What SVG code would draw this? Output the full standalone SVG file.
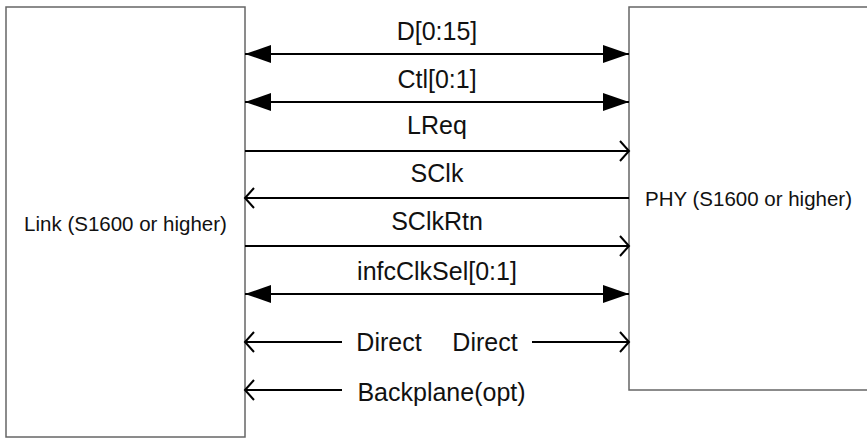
<svg xmlns="http://www.w3.org/2000/svg" width="867" height="438" viewBox="0 0 867 438">
  <style>
    .box { fill: #ffffff; stroke: #666666; stroke-width: 1.5; }
    .wire { stroke: #000000; stroke-width: 2; fill: none; }
    .lbl { font-family: "Liberation Sans", Arial, sans-serif; font-size: 25px; fill: #111111; text-anchor: middle; }
    .nodelbl { font-family: "Liberation Sans", Arial, sans-serif; font-size: 20.5px; fill: #111111; }
  </style>
  <defs>
    <marker id="solid" markerUnits="userSpaceOnUse" markerWidth="28" markerHeight="20" refX="26" refY="9" orient="auto-start-reverse">
      <path d="M0,0 L26,9 L0,18 Z" fill="#000000"/>
    </marker>
    <marker id="open" markerUnits="userSpaceOnUse" markerWidth="12" markerHeight="22" refX="10" refY="11" orient="auto-start-reverse">
      <path d="M1,1 L10,11 L1,21" fill="none" stroke="#000000" stroke-width="2"/>
    </marker>
  </defs>
  <rect width="867" height="438" fill="#ffffff"/>

  <g id="link">
    <rect class="box" x="6" y="7" width="239" height="430"/>
    <text class="nodelbl" x="125.5" y="231" text-anchor="middle">Link (S1600 or higher)</text>
  </g>

  <g id="phy">
    <rect class="box" x="629" y="7" width="250" height="383"/>
    <text class="nodelbl" x="645" y="206">PHY (S1600 or higher)</text>
  </g>

  <g id="connectors">
    <line class="wire" x1="245" y1="54" x2="629" y2="54" marker-start="url(#solid)" marker-end="url(#solid)"/>
    <text class="lbl" x="437" y="40">D[0:15]</text>

    <line class="wire" x1="245" y1="102" x2="629" y2="102" marker-start="url(#solid)" marker-end="url(#solid)"/>
    <text class="lbl" x="437" y="88">Ctl[0:1]</text>

    <line class="wire" x1="245" y1="151" x2="629" y2="151" marker-end="url(#open)"/>
    <text class="lbl" x="437" y="134">LReq</text>

    <line class="wire" x1="629" y1="198" x2="245" y2="198" marker-end="url(#open)"/>
    <text class="lbl" x="437" y="182">SClk</text>

    <line class="wire" x1="245" y1="246" x2="629" y2="246" marker-end="url(#open)"/>
    <text class="lbl" x="437" y="230">SClkRtn</text>

    <line class="wire" x1="245" y1="294" x2="629" y2="294" marker-start="url(#solid)" marker-end="url(#solid)"/>
    <text class="lbl" x="437" y="280">infcClkSel[0:1]</text>

    <line class="wire" x1="342" y1="342" x2="245" y2="342" marker-end="url(#open)"/>
    <text class="lbl" x="389" y="351">Direct</text>
    <text class="lbl" x="485" y="351">Direct</text>
    <line class="wire" x1="532" y1="342" x2="629" y2="342" marker-end="url(#open)"/>

    <line class="wire" x1="342" y1="390" x2="245" y2="390" marker-end="url(#open)"/>
    <text class="lbl" x="441.5" y="401">Backplane(opt)</text>
  </g>
</svg>
